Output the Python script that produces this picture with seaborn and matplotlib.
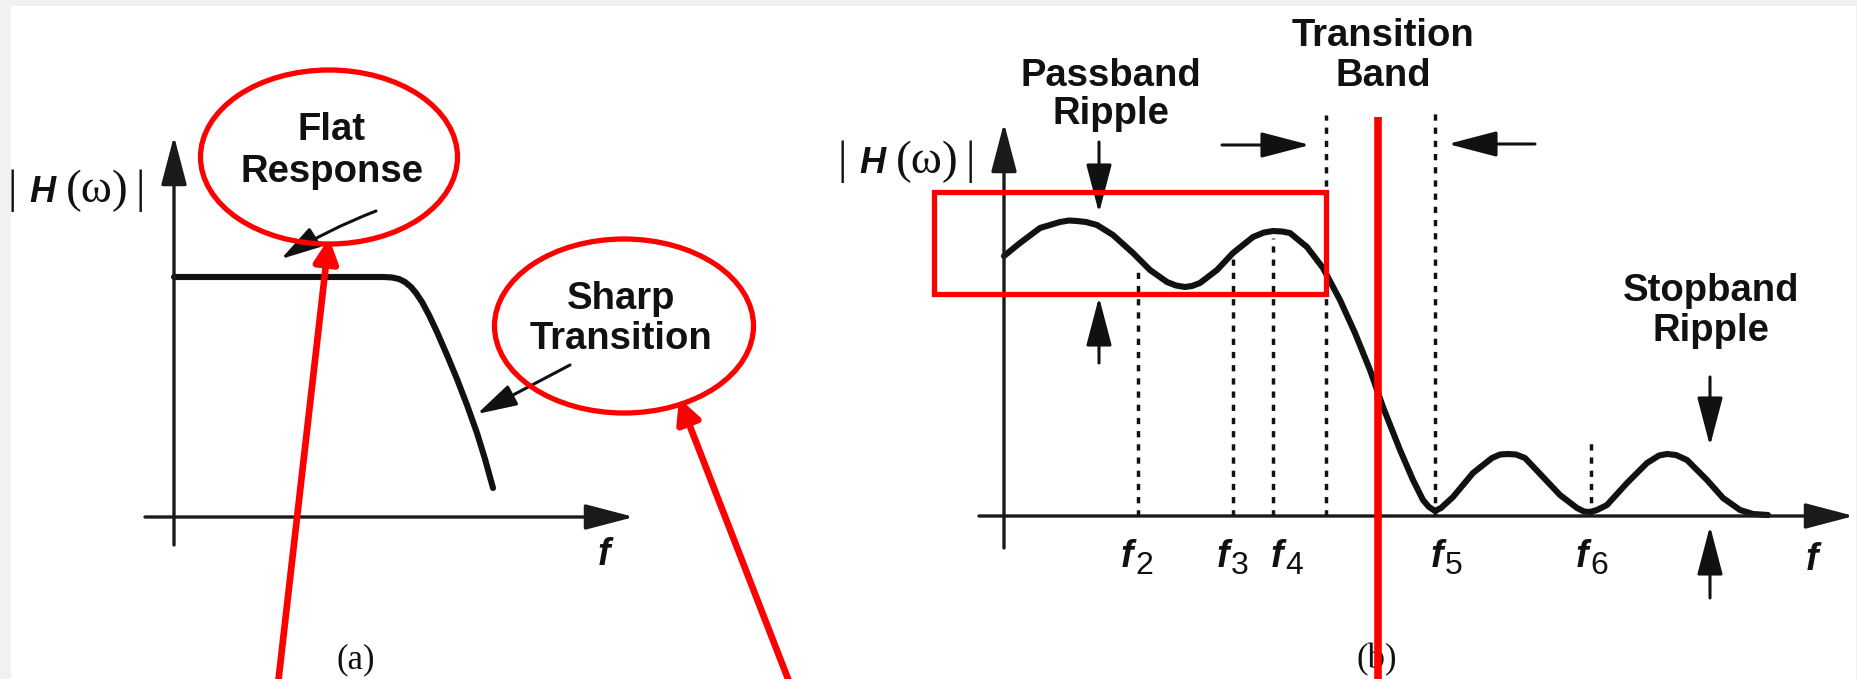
import matplotlib
matplotlib.use("Agg")
import matplotlib.pyplot as plt
import seaborn as sns
from matplotlib.patches import Ellipse, Rectangle

# ---------------- data ----------------
# (a) low-pass magnitude: flat passband followed by a steep roll-off
lp_freq = [0.00, 1.96, 2.10, 2.18, 2.25, 2.31, 2.37, 2.42, 2.48, 2.55,
           2.63, 2.73, 2.83, 2.93, 3.03, 3.11, 3.19]
lp_mag = [2.40, 2.40, 2.40, 2.395, 2.38, 2.35, 2.30, 2.24, 2.15, 2.02,
          1.85, 1.62, 1.38, 1.12, 0.84, 0.58, 0.29]

# (b) magnitude with passband ripple, transition band and stopband ripple
rp_freq = [0.00, 0.16, 0.36, 0.56, 0.65, 0.73, 0.82, 0.93, 1.09, 1.29,
           1.46, 1.63, 1.72, 1.81, 1.88, 1.96, 2.13, 2.29, 2.49, 2.60,
           2.69, 2.78, 2.86, 3.03, 3.19, 3.36, 3.51, 3.66, 3.79, 3.96,
           4.09, 4.19, 4.25, 4.31, 4.37, 4.49, 4.69, 4.88, 4.96, 5.04,
           5.12, 5.21, 5.39, 5.56, 5.73, 5.80, 5.86, 5.93, 6.03, 6.23,
           6.43, 6.55, 6.63, 6.72, 6.83, 7.03, 7.19, 7.36, 7.49, 7.64]
rp_mag = [2.60, 2.73, 2.88, 2.94, 2.955, 2.95, 2.94, 2.91, 2.81, 2.63,
          2.46, 2.34, 2.305, 2.29, 2.30, 2.33, 2.46, 2.63, 2.79, 2.835,
          2.85, 2.845, 2.83, 2.69, 2.48, 2.16, 1.83, 1.46, 1.09, 0.66,
          0.36, 0.16, 0.09, 0.05, 0.08, 0.19, 0.43, 0.58, 0.615, 0.62,
          0.615, 0.58, 0.39, 0.21, 0.08, 0.045, 0.04, 0.06, 0.11, 0.33,
          0.53, 0.605, 0.62, 0.61, 0.56, 0.36, 0.18, 0.06, 0.02, 0.01]

# marked frequencies f2..f6 and the height of their dashed guides
mark_names = ["2", "3", "4", "5", "6"]
mark_freq = [1.34, 2.29, 2.69, 4.31, 5.87]
mark_top = [2.49, 2.59, 2.78, 4.08, 0.79]
# left edge of the transition band (its right edge is f5)
band_edge_freq = 3.22
band_edge_top = 4.01

# ---------------- style ----------------
sns.set_theme(style="white")
plt.rcParams["font.family"] = ["Liberation Sans", "DejaVu Sans"]

W, H = 1858, 679
RED = "#ff0000"
INK = "#111111"
PT = 0.72  # points per pixel at 100 dpi

fig = plt.figure(figsize=(W / 100, H / 100), dpi=100)
fig.patch.set_facecolor("#f1f1f1")
fig.add_artist(Rectangle((11 / W, 0), (1856 - 11) / W, (H - 6) / H,
                         transform=fig.transFigure, facecolor="white",
                         edgecolor="none", zorder=-1))


def panel_axes(ox, oy):
    """Full-figure axes whose origin sits at pixel (ox, oy); 1 unit = 100 px."""
    ax = fig.add_axes([0, 0, 1, 1])
    ax.set_xlim(-ox / 100, (W - ox) / 100)
    ax.set_ylim(-(H - oy) / 100, oy / 100)
    ax.set_axis_off()
    return ax


def arrow(ax, start, tip, hl=42, hw=22, lw=2.2, color=INK, cs="arc3"):
    style = f"-|>,head_length={hl * PT:.2f},head_width={hw * PT / 2:.2f}"
    ax.annotate("", xy=tip, xytext=start,
                arrowprops=dict(arrowstyle=style, mutation_scale=1, lw=lw,
                                color=color, shrinkA=0, shrinkB=0,
                                connectionstyle=cs),
                annotation_clip=False)


ax_a = panel_axes(174, 517)
ax_b = panel_axes(1004, 516)

# response curves
for ax, fr, mag in [(ax_a, lp_freq, lp_mag), (ax_b, rp_freq, rp_mag)]:
    sns.lineplot(x=fr, y=mag, ax=ax, color=INK, lw=4.4,
                 estimator=None, sort=False, solid_capstyle="round",
                 solid_joinstyle="round")

# coordinate axes with arrow tips
for ax, (ylo, yhi), (xlo, xhi) in [(ax_a, (-0.28, 3.81), (-0.29, 4.60)),
                                   (ax_b, (-0.32, 3.93), (-0.25, 8.50))]:
    arrow(ax, (0, ylo), (0, yhi), lw=2.4, color="#1a1a1a")
    arrow(ax, (xlo, 0), (xhi, 0), lw=2.4, color="#1a1a1a")

# dashed guides at the marked frequencies
ax_b.vlines(mark_freq + [band_edge_freq], 0, mark_top + [band_edge_top],
            colors=INK, linewidth=2.5, linestyles=[(0, (1.8, 2.0))])

# ---------------- annotation layer (pixel coordinates) ----------------
ov = fig.add_axes([0, 0, 1, 1])
ov.set_xlim(0, W)
ov.set_ylim(H, 0)
ov.set_axis_off()

bold = dict(fontsize=27.5, fontweight="bold", ha="center", va="center",
            color=INK)


def mag_label(x0, base):
    """|H(omega)| built from a sans italic H and serif delimiters."""
    serif = dict(family="Liberation Serif", fontsize=34, ha="center",
                 va="baseline", color=INK)
    ov.text(x0, base, "|", **serif)
    ov.text(x0 + 30, base, "H", family="Liberation Sans", fontsize=26,
            fontweight="bold", fontstyle="italic", ha="center",
            va="baseline", color=INK)
    ov.text(x0 + 85, base, "(\u03c9)", **serif)
    ov.text(x0 + 128, base, "|", **serif)


mag_label(12, 202)
mag_label(842, 173)

# frequency labels
fkw = dict(family="Liberation Sans", fontsize=27, fontweight="bold",
           fontstyle="italic", ha="center", va="baseline", color=INK)
ov.text(604, 565, "f", **fkw)
ov.text(1812, 570, "f", **fkw)
nudges = [-11, -10, 4, 2, -9]
for name, fr, dx in zip(mark_names, mark_freq, nudges):
    x = 1004 + fr * 100 + dx
    ov.text(x, 567, "f", **fkw)
    ov.text(x + 17, 574, name, family="Liberation Sans", fontsize=23,
            ha="center", va="baseline", color=INK)

# panel tags
ov.text(356, 660, "(a)", family="Liberation Serif", fontsize=25,
        ha="center", va="center", color=INK)
ov.text(1377, 660, "(b)", family="Liberation Serif", fontsize=25,
        ha="center", va="center", color=INK)

# callouts
ov.text(332, 151, "Flat\nResponse", linespacing=1.2, **bold)
ov.text(621, 319, "Sharp\nTransition", linespacing=1.15, **bold)
ov.text(1111, 95, "Passband\nRipple", linespacing=1.08, **bold)
ov.text(1383, 56, "Transition\nBand", linespacing=1.15, **bold)
ov.text(1711, 311, "Stopband\nRipple", linespacing=1.12, **bold)

arrow(ov, (376, 211), (281, 259), hl=34, hw=19, lw=2.2, cs="arc3,rad=0.05")
arrow(ov, (570, 365), (477, 414), hl=34, hw=19, lw=2.2)
arrow(ov, (1222, 145), (1310, 145))
arrow(ov, (1535, 144), (1448, 144))
arrow(ov, (1099, 142), (1099, 213))
arrow(ov, (1099, 363), (1099, 297))
arrow(ov, (1710, 377), (1710, 446))
arrow(ov, (1710, 598), (1710, 526))

# red highlights
ov.add_patch(Ellipse((329, 157), 257, 174, fill=False, ec=RED, lw=3.8,
                     zorder=10))
ov.add_patch(Ellipse((624, 326), 259, 174, fill=False, ec=RED, lw=3.8,
                     zorder=10))
ov.add_patch(Rectangle((934, 192), 392, 102, fill=False, ec=RED, lw=3.8,
                       zorder=10))
ov.plot([1378, 1378], [117, H], color=RED, lw=5.5, solid_capstyle="butt",
        zorder=10)
for start, tip in [((278, H + 5), (329, 238)), ((790, H + 5), (679, 398))]:
    ov.annotate("", xy=tip, xytext=start,
                arrowprops=dict(arrowstyle=f"-|>,head_length={20 * PT:.2f},"
                                f"head_width={10 * PT:.2f}",
                                mutation_scale=1, lw=4.8, color=RED,
                                shrinkA=0, shrinkB=0),
                annotation_clip=False, zorder=10)

fig.savefig("out.png", dpi=100, facecolor=fig.get_facecolor())
